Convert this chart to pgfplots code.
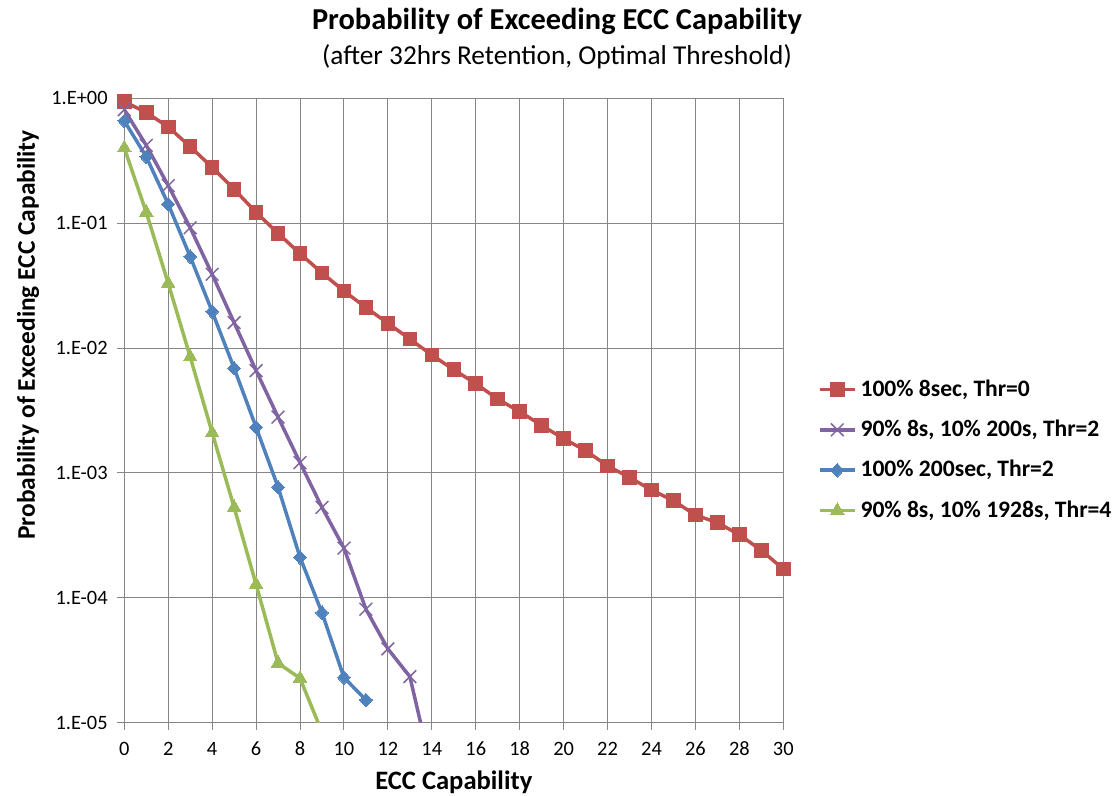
\documentclass[border=0pt]{standalone}
\usepackage{fontspec}
\setmainfont{Carlito}
\usepackage{pgfplots}
\pgfplotsset{compat=1.18}
\definecolor{cred}{HTML}{C0504D}
\definecolor{cpurple}{HTML}{8064A2}
\definecolor{cblue}{HTML}{4F81BD}
\definecolor{cgreen}{HTML}{9BBB59}
\definecolor{gridgray}{HTML}{868686}
\begin{document}
\begin{tikzpicture}
\useasboundingbox (-62.15pt,-36.65pt) rectangle (494.35pt,361.35pt);
\begin{axis}[
  at={(0pt,0pt)}, anchor=south west,
  scale only axis, width=329.5pt, height=312.2pt,
  xmin=0, xmax=30, ymode=log, ymin=1e-5, ymax=1,
  xtick={0,2,...,30},
  ytick={1e-5,1e-4,1e-3,1e-2,1e-1,1},
  yticklabels={1.E-05,1.E-04,1.E-03,1.E-02,1.E-01,1.E+00},
  yminorticks=false,
  grid=major, major grid style={gridgray, line width=0.5pt},
  axis line style={gridgray, line width=0.5pt},
  tick align=outside, tick pos=left, major tick length=3.5pt,
  every tick/.style={gridgray, line width=0.5pt},
  tick label style={font=\fontsize{10.2}{12}\selectfont, black},
  /pgf/number format/assume math mode=true,
  xticklabel style={anchor=base, yshift=-13pt},
  yticklabel style={anchor=east, xshift=-1.3pt},
  legend style={draw=none, fill=none, at={(axis description cs:1.0527,0.4367)}, anchor=west,
    inner sep=0pt, outer sep=0pt, row sep=10.4pt, column sep=2pt,
    nodes={inner sep=0pt, font=\fontsize{11.8}{13}\selectfont\bfseries}},
  legend cell align=left,
  legend image code/.code={\draw[mark repeat=1,#1,mark indices={2}] plot coordinates {(0pt,0pt) (8.75pt,0pt) (17.5pt,0pt)};},
  every axis plot/.append style={line width=1.75pt, line join=round},
]
\addplot[cred, mark=square*, mark size=3.4pt, mark options={solid, line width=0pt}] coordinates {
(0,0.94)(1,0.77)(2,0.59)(3,0.41)(4,0.28)(5,0.187)(6,0.122)(7,0.083)(8,0.057)(9,0.040)
(10,0.0286)(11,0.0211)(12,0.0158)(13,0.0118)(14,0.0088)(15,0.0067)(16,0.0052)(17,0.0039)
(18,0.0031)(19,0.0024)(20,0.00188)(21,0.00151)(22,0.00114)(23,0.00092)(24,0.00073)
(25,0.00060)(26,0.00046)(27,0.00040)(28,0.00032)(29,0.00024)(30,0.00017)};
\addlegendentry{100\% 8sec, Thr=0}
\addplot[cpurple, mark=x, mark size=4.5pt, mark options={line width=0.75pt}, mark indices={1,...,14}] coordinates {
(0,0.81)(1,0.42)(2,0.20)(3,0.092)(4,0.039)(5,0.016)(6,0.0066)(7,0.0028)(8,0.00121)
(9,0.00053)(10,0.00025)(11,8.1e-5)(12,3.9e-5)(13,2.34e-5)(14,4.1e-6)};
\addlegendentry{90\% 8s, 10\% 200s, Thr=2}
\addplot[cblue, mark=diamond*, mark size=3.4pt, mark options={line width=0pt, xscale=1.25}] coordinates {
(0,0.66)(1,0.34)(2,0.142)(3,0.054)(4,0.0196)(5,0.0069)(6,0.00232)(7,0.00077)(8,0.000211)
(9,7.6e-5)(10,2.3e-5)(11,1.52e-5)};
\addlegendentry{100\% 200sec, Thr=2}
\addplot[cgreen, mark=triangle*, mark size=3.9pt, mark options={line width=0pt}, mark indices={1,...,9}] coordinates {
(0,0.40)(1,0.122)(2,0.033)(3,0.0085)(4,0.0021)(5,0.00053)(6,0.000128)(7,3.0e-5)(8,2.27e-5)(9,8.4e-6)};
\addlegendentry{90\% 8s, 10\% 1928s, Thr=4}
\end{axis}
\node[anchor=base, font=\fontsize{15.2}{18}\selectfont\bfseries] at (216.35pt,346.35pt) {Probability of Exceeding ECC Capability};
\node[anchor=base, font=\fontsize{13.65}{16}\selectfont] at (216.35pt,328.85pt) {(after 32hrs Retention, Optimal Threshold)};
\node[rotate=90, anchor=base, font=\fontsize{12.7}{15}\selectfont\bfseries] at (-44.65pt,193.85pt) {Probability of Exceeding ECC Capability};
\node[anchor=base, font=\fontsize{13.3}{16}\selectfont\bfseries] at (164.75pt,-33.65pt) {ECC Capability};
\end{tikzpicture}
\end{document}
